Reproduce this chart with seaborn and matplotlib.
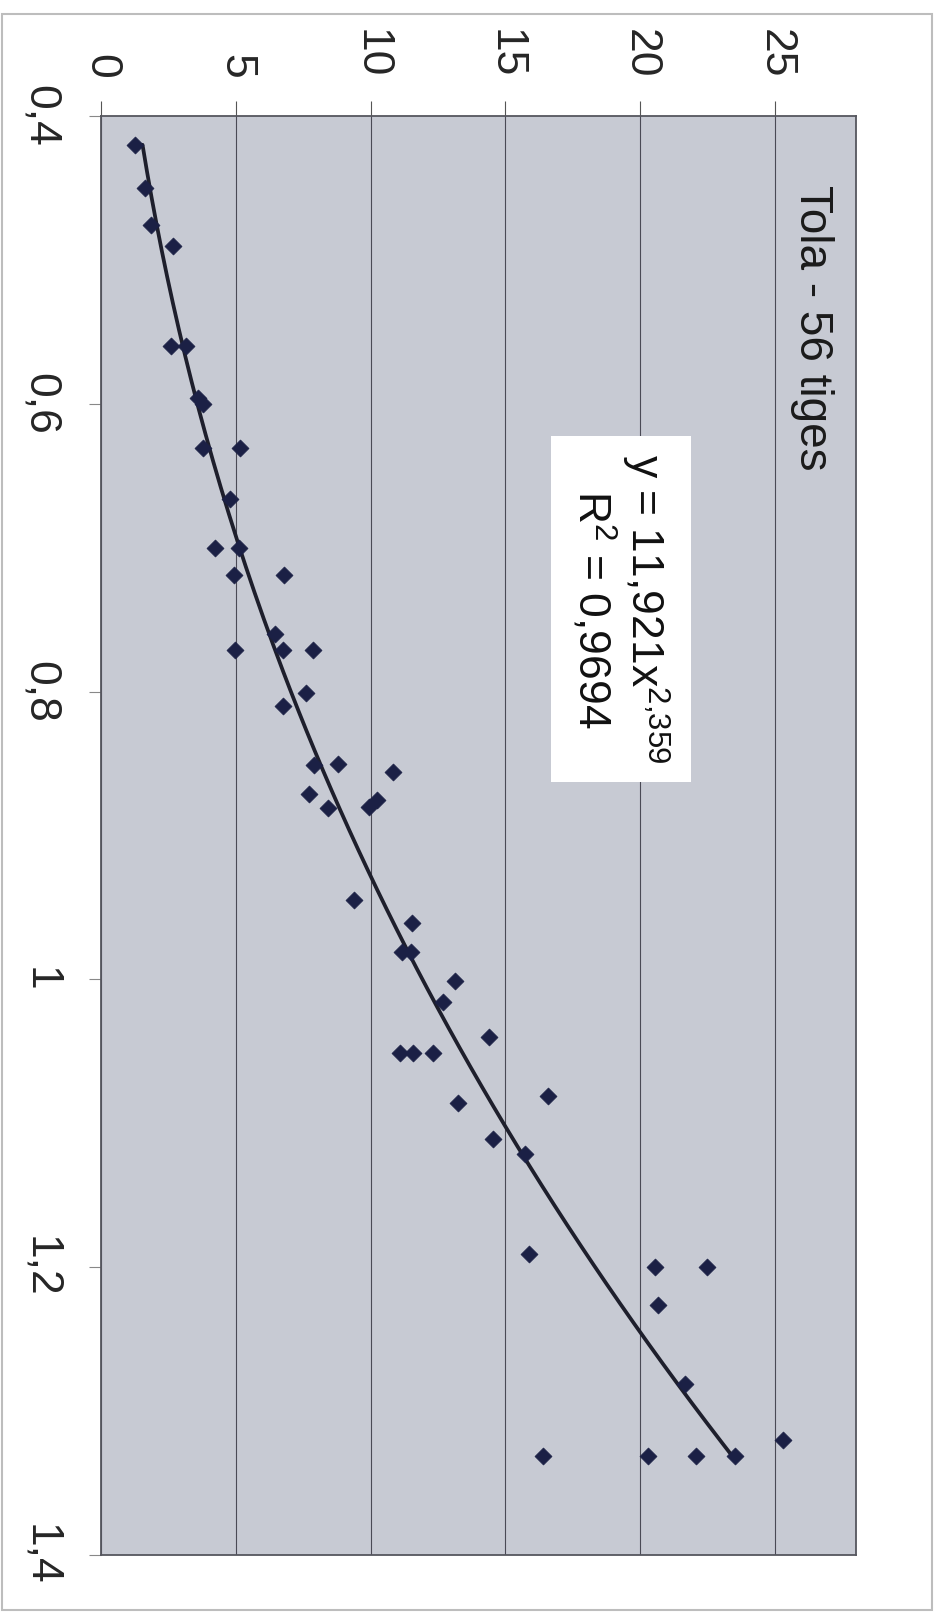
import numpy as np
import pandas as pd
import seaborn as sns
from matplotlib import pyplot as plt
from matplotlib.patches import Rectangle

# diametre (axe vertical, 0,4 -> 1,4) et volume (axe horizontal, 0 -> 25)
diametre = [0.420, 0.450, 0.476, 0.490, 0.560, 0.560, 0.596, 0.600, 0.631, 0.631,
            0.666, 0.700, 0.700, 0.719, 0.719, 0.760, 0.771, 0.771, 0.771, 0.801,
            0.810, 0.851, 0.850, 0.856, 0.871, 0.881, 0.880, 0.875, 0.945, 0.961,
            0.981, 0.981, 1.001, 1.016, 1.040, 1.051, 1.051, 1.051, 1.081, 1.086,
            1.111, 1.121, 1.191, 1.200, 1.200, 1.226, 1.281, 1.331, 1.331, 1.331,
            1.331, 1.320]
volume = [1.26, 1.63, 1.85, 2.68, 2.59, 3.15, 3.61, 3.79, 3.79, 5.16,
          4.78, 4.23, 5.13, 4.93, 6.79, 6.45, 6.76, 4.97, 7.87, 7.60,
          6.74, 7.91, 8.78, 10.82, 7.73, 8.41, 9.95, 10.25, 9.40, 11.55,
          11.15, 11.50, 13.13, 12.70, 14.40, 11.09, 11.58, 12.33, 16.59, 13.25,
          14.55, 15.73, 15.89, 20.55, 22.49, 20.67, 21.66, 16.38, 20.30, 22.07,
          23.51, 25.31]

coef_a = 11.921
coef_b = 2.359
r2_text = "0,9694"

vol_ticks = [0, 5, 10, 15, 20, 25]
diam_ticks = [0.4, 0.6, 0.8, 1.0, 1.2, 1.4]
diam_labels = ["0,4", "0,6", "0,8", "1", "1,2", "1,4"]

df = pd.DataFrame({"diametre": diametre, "volume": volume})

d_fit = np.linspace(min(diametre), max(diametre), 200)
fit = pd.DataFrame({"diametre": d_fit, "volume": coef_a * d_fit ** coef_b})

sns.set_style("white")
plt.rcParams['font.family'] = ['Liberation Sans', 'DejaVu Sans']
plt.rcParams['mathtext.fontset'] = 'custom'
plt.rcParams['mathtext.rm'] = 'Liberation Sans'
plt.rcParams['mathtext.it'] = 'Liberation Sans:italic'

fig = plt.figure(figsize=(9.42, 16.12), dpi=100)
ax = fig.add_axes([101 / 942, 1 - 1555 / 1612, 755 / 942, 1439 / 1612])
ax.set_facecolor('#c7cad3')

sns.lineplot(data=fit, x="volume", y="diametre", sort=False, estimator=None,
             color='#1e1f2c', linewidth=2.7, ax=ax, zorder=3)
sns.scatterplot(data=df, x="volume", y="diametre", marker='D', s=75,
                color='#1b2045', edgecolor='#1b2045', linewidth=0.5, ax=ax, zorder=4)

ax.set_xlim(0, 28)
ax.set_ylim(1.4, 0.4)
ax.set_xticks(vol_ticks)
ax.set_xticklabels([str(v) for v in vol_ticks])
ax.set_yticks(diam_ticks)
ax.set_yticklabels(diam_labels)
ax.set_xlabel("")
ax.set_ylabel("")

ax.grid(axis='x', color='#4a4a55', linewidth=0.8)
ax.grid(axis='y', visible=False)
for sp in ax.spines.values():
    sp.set_color('#55565e')
    sp.set_linewidth(1.3)

ax.tick_params(axis='x', top=True, bottom=False, labeltop=True, labelbottom=False,
               direction='out', length=11, width=0.8, color='#555',
               pad=16, labelsize=32, labelrotation=-90)
ax.tick_params(axis='y', left=True, direction='out', length=9, width=0.8,
               color='#888', pad=20, labelsize=32, labelrotation=-90)
for lab in ax.get_yticklabels():
    lab.set_va('center')

ax.text(0.942, 0.853, "Tola - 56 tiges", transform=ax.transAxes, rotation=-90,
        ha='center', va='center', fontsize=33, color='#1a1a1a')

ax.text(19.25, 0.7426,
        "y = 11,921x$^{2{,}359}$\nR$^{2}$ = " + r2_text,
        rotation=-90, ha='center', va='center', multialignment='center',
        fontsize=32, color='#111', linespacing=1.05, zorder=5,
        bbox=dict(boxstyle='square,pad=0.4', fc='white', ec='none'))

fig.add_artist(Rectangle((2 / 942, 2 / 1612), 930 / 942, 1596 / 1612,
                         transform=fig.transFigure, fill=False,
                         ec='#bdbdbd', lw=1.5))

plt.savefig('out.png', dpi=100)
